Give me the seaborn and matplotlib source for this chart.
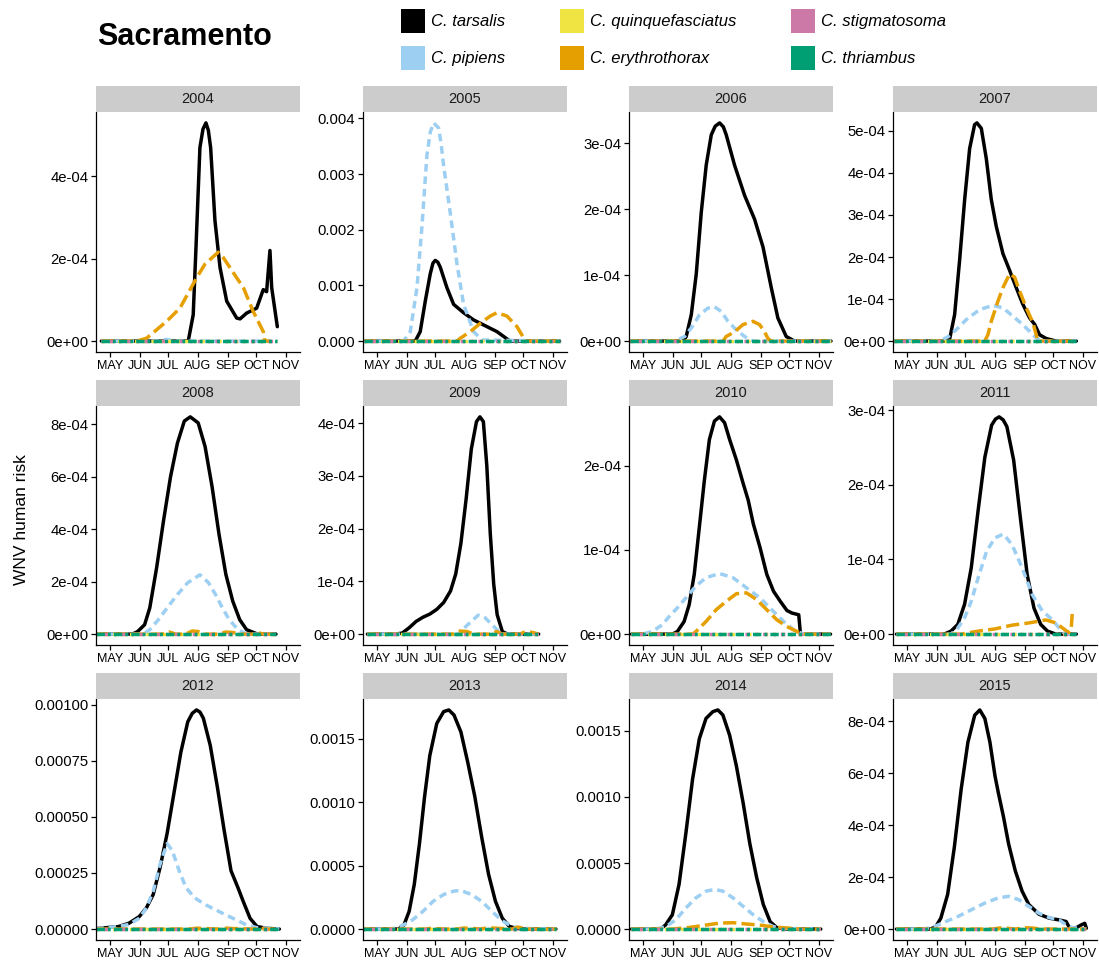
import matplotlib
matplotlib.use("Agg")
import matplotlib.pyplot as plt
from matplotlib.patches import Rectangle
import pandas as pd
import seaborn as sns

# ---------------- data ----------------
SPECIES = ["C. tarsalis", "C. pipiens", "C. quinquefasciatus",
           "C. erythrothorax", "C. stigmatosoma", "C. thriambus"]
COLORS = ["#000000", "#9DCFF2", "#F0E442", "#E69F00", "#CC79A7", "#009E73"]
YEARS = [2004, 2005, 2006, 2007, 2008, 2009, 2010, 2011, 2012, 2013, 2014, 2015]
MONTH_DAYS = [121, 152, 182, 213, 244, 274, 305]
MONTH_LABELS = ["MAY", "JUN", "JUL", "AUG", "SEP", "OCT", "NOV"]
RISK_UNIT = 1e-4  # all series values below are in units of 1e-4

# first / last day of the season for each year (day of year)
SPAN = {2004: (112, 296), 2005: (107, 311.8), 2006: (107, 317.5), 2007: (107, 298),
        2008: (106, 294.5), 2009: (111, 290), 2010: (109, 317), 2011: (110, 298),
        2012: (106.5, 298), 2013: (106, 308), 2014: (109, 306.8), 2015: (110, 308.5)}

TAR_DAY = {
    2004: [112, 202.8, 208, 210.9, 215, 218.2, 221.3, 223.8, 226.2, 230.7, 236, 243, 253.4, 257, 263.8, 274.3, 281.2, 284.7, 288.2, 290, 295.9],
    2005: [107, 161, 166.2, 171.5, 176.7, 179.5, 181.9, 184.5, 187.1, 194.1, 201.1, 211.5, 222, 235.9, 246.4, 256.8, 260, 311.8],
    2006: [107, 162.8, 166.2, 171.5, 176.7, 181.9, 187.1, 192.4, 196.5, 201.1, 205, 208, 216.7, 227.2, 237.6, 246.4, 255.1, 262, 270.7, 279.4, 317.5],
    2007: [107, 162.1, 165.6, 170.8, 176, 181.3, 186.5, 191.7, 194.1, 198.7, 203.9, 209.1, 214.3, 221.3, 228.3, 235.2, 242.2, 249.2, 254.4, 259.6, 266.6, 277, 298],
    2008: [106, 144.5, 149.9, 157.2, 162.6, 169.8, 177, 184.3, 191.5, 198.7, 204.9, 213.2, 220.4, 227.7, 234.9, 242.1, 249.3, 256.6, 263.8, 274.7, 285.5, 294.5],
    2009: [111, 140.1, 147.4, 154.6, 161.8, 169, 176.2, 183.5, 190.7, 197.9, 203.3, 208.7, 214.1, 219.6, 225, 228.6, 232.2, 235.8, 239.4, 243, 246.6, 252, 257.5, 290],
    2010: [109, 151.7, 156.9, 164, 169.3, 174.6, 179.9, 185.2, 190.4, 195.7, 201, 206.3, 211.6, 218.6, 225.7, 231, 236.3, 243.3, 250.4, 257.4, 264.5, 271.5, 276.8, 283.8, 285.6, 317],
    2011: [110, 159.9, 167, 174.1, 181.2, 188.2, 195.3, 202.4, 209.5, 213.5, 217.3, 221.5, 225.4, 232.5, 239.5, 246.6, 253.7, 260.8, 267.9, 276.7, 298],
    2012: [106.5, 130, 140.9, 151.7, 159, 166.2, 173.4, 180.7, 187.9, 195.1, 202.3, 207, 211.4, 215, 218.6, 225.8, 233.1, 240.3, 247.5, 254.8, 260.2, 267.4, 274.7, 285.5, 298],
    2013: [106, 143.7, 149.2, 154.6, 160, 165.4, 170.8, 176.2, 183.5, 190.7, 196.1, 201.5, 208.7, 215.9, 223.2, 230.4, 237.6, 244.8, 252, 259.3, 266.5, 276.3, 308],
    2014: [109, 139.3, 144.6, 151.7, 158.7, 165.8, 172.8, 179.9, 186.9, 194, 199.3, 204.5, 211.6, 218.6, 225.7, 232.7, 239.8, 246.8, 253.9, 260.9, 271.5, 306.8],
    2015: [110, 145.8, 151.1, 156.4, 163.5, 170.5, 177.6, 184.7, 191.8, 197.1, 202.4, 207.7, 213, 216.5, 221.8, 227.2, 234.2, 241.3, 248.4, 259, 269.6, 280.2, 287.3, 290.9, 297.9, 303.2, 306.8, 308.5],
}
TAR_VAL = {
    2004: [0, 0, 0.64, 2.28, 4.7, 5.15, 5.3, 5.12, 4.7, 2.93, 1.79, 0.97, 0.56, 0.54, 0.68, 0.8, 1.25, 1.2, 2.2, 1.3, 0.35],
    2005: [0, 0, 1.7, 7.2, 12.1, 14.0, 14.5, 14.2, 13.3, 9.6, 6.6, 5.1, 3.8, 2.6, 1.7, 0.4, 0, 0],
    2006: [0, 0, 0.07, 0.40, 1.02, 1.95, 2.67, 3.13, 3.26, 3.31, 3.25, 3.13, 2.67, 2.21, 1.85, 1.43, 0.81, 0.35, 0.07, 0, 0],
    2007: [0, 0, 0.05, 0.63, 1.92, 3.37, 4.58, 5.15, 5.19, 5.06, 4.34, 3.37, 2.73, 2.08, 1.68, 1.27, 0.87, 0.55, 0.40, 0.15, 0.06, 0, 0],
    2008: [0, 0, 0.1, 0.36, 1.0, 2.54, 4.33, 6.0, 7.28, 8.12, 8.28, 8.05, 7.15, 5.62, 3.82, 2.28, 1.26, 0.55, 0.17, 0.01, 0, 0],
    2009: [0, 0, 0.02, 0.12, 0.24, 0.32, 0.38, 0.47, 0.60, 0.82, 1.14, 1.72, 2.55, 3.51, 4.03, 4.12, 4.03, 3.19, 1.91, 0.95, 0.37, 0.05, 0, 0],
    2010: [0, 0, 0.03, 0.15, 0.35, 0.71, 1.27, 1.83, 2.31, 2.53, 2.58, 2.51, 2.31, 2.07, 1.79, 1.59, 1.31, 1.03, 0.71, 0.51, 0.39, 0.28, 0.25, 0.23, 0, 0],
    2011: [0, 0, 0.04, 0.13, 0.40, 0.89, 1.65, 2.37, 2.80, 2.88, 2.91, 2.87, 2.78, 2.33, 1.56, 0.80, 0.35, 0.13, 0.04, 0, 0],
    2012: [0.02, 0.11, 0.26, 0.56, 0.94, 1.54, 2.75, 4.26, 6.07, 7.89, 9.24, 9.62, 9.77, 9.68, 9.40, 8.19, 6.37, 4.41, 2.60, 1.84, 1.24, 0.48, 0.11, 0.03, 0],
    2013: [0, 0, 0.32, 1.39, 3.52, 6.72, 10.45, 13.65, 16.19, 17.12, 17.25, 16.85, 15.52, 13.12, 10.45, 7.25, 4.32, 2.19, 0.85, 0.21, 0.05, 0, 0],
    2014: [0, 0, 0.31, 1.08, 3.38, 7.23, 11.33, 14.41, 15.95, 16.46, 16.59, 16.21, 14.67, 12.36, 9.54, 6.46, 3.90, 1.85, 0.56, 0.10, 0, 0],
    2015: [0, 0, 0.09, 0.42, 1.33, 3.15, 5.37, 7.19, 8.23, 8.43, 8.10, 7.19, 5.89, 5.24, 4.33, 3.28, 2.24, 1.46, 0.94, 0.57, 0.42, 0.35, 0.29, 0.05, 0.05, 0.16, 0.22, 0.03],
}

PIP_DAY = {
    2004: [112, 170, 180, 190, 296],
    2005: [107, 148.8, 155.8, 162.8, 168, 173.2, 176.8, 180.2, 185.4, 188, 190.6, 197.6, 204.6, 211.5, 222, 230.7, 311.8],
    2006: [107, 154.1, 164.5, 171.5, 180.2, 188.9, 195.8, 202.8, 209.8, 218.5, 227.2, 235.9, 317.5],
    2007: [107, 155.1, 163.8, 172.5, 183, 196.9, 210.9, 221.3, 231.8, 242.2, 252.7, 257.9, 262, 298],
    2008: [106, 155.3, 162.6, 171.6, 180.7, 191.5, 202.3, 215, 224, 231.3, 238.5, 245.7, 254.8, 263.8, 294.5],
    2009: [111, 206.9, 212.3, 219.6, 226.8, 234, 241.2, 248.4, 253.9, 290],
    2010: [109, 120, 130.5, 141.1, 149.9, 155.2, 165.8, 176.3, 186.9, 201, 215.1, 229.2, 243.3, 257.4, 268, 278.6, 289.1, 317],
    2011: [110, 167, 174.1, 181.2, 188.2, 195.3, 204.2, 213, 221.8, 230.7, 241.3, 251.9, 262.5, 273.2, 280.2, 285.5, 290, 298],
    2012: [106.5, 130, 140.9, 151.7, 159, 166.2, 173.4, 180.7, 186.1, 193.3, 200.5, 209.6, 220.4, 231.3, 242.1, 253, 263.8, 274.7, 292.7, 298],
    2013: [106, 136.5, 147.4, 158.2, 169, 179.8, 190.7, 201.5, 208.7, 219.6, 230.4, 241.2, 252, 262.9, 273.7, 308],
    2014: [109, 134, 144.6, 155.2, 165.8, 176.3, 186.9, 195.7, 204.5, 215.1, 225.7, 236.3, 246.8, 257.4, 268, 306.8],
    2015: [110, 138.7, 149.3, 159.9, 174.1, 188.2, 202.4, 216.5, 227.2, 237.8, 248.4, 259, 269.6, 280.2, 287.3, 294.4, 301.5, 308.5],
}
PIP_VAL = {
    2004: [0, 0, 0.04, 0, 0],
    2005: [0, 0, 1.7, 9.6, 20.6, 33.4, 37.6, 39.2, 38.3, 35.5, 31.6, 23.0, 13.9, 6.6, 1.7, 0.2, 0],
    2006: [0, 0, 0.07, 0.2, 0.4, 0.5, 0.52, 0.45, 0.3, 0.17, 0.07, 0, 0],
    2007: [0, 0, 0.1, 0.27, 0.51, 0.75, 0.85, 0.79, 0.59, 0.39, 0.15, 0.05, 0, 0],
    2008: [0, 0, 0.17, 0.55, 1.0, 1.51, 1.96, 2.26, 1.96, 1.51, 1.0, 0.55, 0.17, 0, 0],
    2009: [0, 0, 0.12, 0.24, 0.36, 0.31, 0.18, 0.05, 0, 0],
    2010: [0, 0, 0.03, 0.11, 0.23, 0.29, 0.43, 0.57, 0.67, 0.72, 0.67, 0.55, 0.43, 0.27, 0.15, 0.05, 0, 0],
    2011: [0, 0, 0.08, 0.22, 0.44, 0.75, 1.11, 1.29, 1.34, 1.20, 0.89, 0.53, 0.31, 0.19, 0.08, 0.01, 0, 0],
    2012: [0.02, 0.11, 0.21, 0.48, 0.94, 1.69, 2.90, 3.81, 3.50, 2.60, 1.84, 1.39, 1.09, 0.86, 0.63, 0.41, 0.18, 0.06, 0.03, 0],
    2013: [0, 0, 0.27, 0.72, 1.39, 2.19, 2.72, 2.99, 3.04, 2.72, 2.19, 1.39, 0.64, 0.19, 0.05, 0],
    2014: [0, 0, 0.18, 0.69, 1.59, 2.36, 2.87, 3.00, 2.87, 2.36, 1.72, 1.08, 0.56, 0.18, 0.05, 0],
    2015: [0, 0, 0.09, 0.26, 0.48, 0.74, 1.00, 1.20, 1.26, 1.13, 0.87, 0.61, 0.44, 0.35, 0.16, 0.05, 0.03, 0],
}

ERY_DAY = {
    2004: [112, 148.9, 159.3, 180.2, 194.1, 211.6, 220.3, 234.2, 239.4, 253.4, 260.4, 270.7, 281.2, 282.9, 288.2],
    2005: [107, 204.6, 208, 218.5, 229, 239.4, 246.4, 256.8, 267.3, 272.5, 276, 311.8],
    2006: [107, 204.6, 208, 216.7, 225.5, 235.9, 242.9, 248.1, 251.6, 255, 317.5],
    2007: [107, 202.2, 205.6, 209.1, 216.1, 221.3, 228.3, 233.5, 238.7, 245.7, 252.7, 256.1, 257.9, 298],
    2008: [106, 175, 183, 190, 200, 207, 213, 220, 235, 242, 250, 258, 270, 276, 282, 294.5],
    2009: [111, 200, 206, 215, 222, 240, 246, 252, 270, 277, 284, 290],
    2010: [109, 172.8, 176.3, 186.9, 197.5, 208.1, 218.6, 229.2, 239.8, 250.4, 260.9, 271.5, 282.1, 287.4, 317],
    2011: [110, 177.6, 195.3, 213, 230.7, 248.4, 266.1, 276.7, 283.8, 290.1, 292.5, 293.7],
    2012: [106.5, 205, 212, 220, 235, 243, 250, 270, 278, 285, 298],
    2013: [106, 172, 176, 182, 195, 205, 212, 218, 230, 236, 242, 262, 268, 274, 280, 308],
    2014: [109, 151.7, 169.3, 186.9, 201, 215.1, 229.2, 243.3, 257.4, 271.5, 285.6, 306.8],
    2015: [110, 210, 218, 226, 234, 245, 252, 260, 308.5],
}
ERY_VAL = {
    2004: [0, 0, 0.07, 0.48, 0.8, 1.54, 1.87, 2.16, 2.03, 1.54, 1.3, 0.72, 0.23, 0, 0],
    2005: [0, 0, 0.5, 1.7, 3.2, 4.5, 5.1, 4.5, 2.6, 1.1, 0, 0],
    2006: [0, 0, 0.07, 0.14, 0.25, 0.30, 0.25, 0.14, 0.04, 0, 0],
    2007: [0, 0, 0.15, 0.47, 0.95, 1.27, 1.60, 1.52, 1.19, 0.79, 0.43, 0.15, 0, 0],
    2008: [0, 0, 0.08, 0, 0, 0.12, 0.1, 0, 0, 0.08, 0.06, 0, 0, 0.05, 0, 0],
    2009: [0, 0, 0.06, 0.05, 0, 0, 0.05, 0, 0, 0.05, 0.03, 0],
    2010: [0, 0, 0.03, 0.15, 0.29, 0.39, 0.48, 0.49, 0.41, 0.29, 0.17, 0.09, 0.03, 0, 0],
    2011: [0, 0, 0.04, 0.07, 0.12, 0.15, 0.19, 0.15, 0.08, 0.02, 0.05, 0.27],
    2012: [0, 0, 0.04, 0.02, 0, 0.04, 0.02, 0, 0.04, 0, 0],
    2013: [0, 0, 0.05, 0.03, 0, 0, 0.08, 0.06, 0, 0.1, 0.08, 0, 0.15, 0.08, 0, 0],
    2014: [0, 0, 0.12, 0.30, 0.45, 0.48, 0.38, 0.30, 0.15, 0.08, 0, 0],
    2015: [0, 0, 0.04, 0.03, 0, 0.05, 0.04, 0, 0],
}

YTICK_LABELS = {
    2004: ["0e+00", "2e-04", "4e-04"],
    2005: ["0.000", "0.001", "0.002", "0.003", "0.004"],
    2006: ["0e+00", "1e-04", "2e-04", "3e-04"],
    2007: ["0e+00", "1e-04", "2e-04", "3e-04", "4e-04", "5e-04"],
    2008: ["0e+00", "2e-04", "4e-04", "6e-04", "8e-04"],
    2009: ["0e+00", "1e-04", "2e-04", "3e-04", "4e-04"],
    2010: ["0e+00", "1e-04", "2e-04"],
    2011: ["0e+00", "1e-04", "2e-04", "3e-04"],
    2012: ["0.00000", "0.00025", "0.00050", "0.00075", "0.00100"],
    2013: ["0.0000", "0.0005", "0.0010", "0.0015"],
    2014: ["0.0000", "0.0005", "0.0010", "0.0015"],
    2015: ["0e+00", "2e-04", "4e-04", "6e-04", "8e-04"],
}

# ---------------- styling ----------------
sns.set_theme(style="white")
plt.rcParams["font.family"] = ["Liberation Sans", "DejaVu Sans"]

PALETTE = dict(zip(SPECIES, COLORS))
DASHES = {
    "C. tarsalis": "",
    "C. pipiens": (2.2, 1.4),
    "C. quinquefasciatus": (1.0, 1.4),
    "C. erythrothorax": (3.8, 1.5),
    "C. stigmatosoma": (0.6, 1.6, 1.3, 1.6),
    "C. thriambus": (2.4, 0.9, 0.8, 0.9),
}

W, H = 1099, 965
fig = plt.figure(figsize=(W / 100, H / 100), dpi=100)
fig.patch.set_facecolor("white")

COL_X = [96, 363, 629, 893]
PANEL_W = 204
ROW_TOP = [112, 406, 699]
PANEL_H = [240, 239, 241]
STRIP_H = 26


def year_frame(year):
    start, end = SPAN[year]
    parts = []
    for sp in SPECIES:
        if sp == "C. tarsalis":
            d, v = TAR_DAY[year], TAR_VAL[year]
        elif sp == "C. pipiens":
            d, v = PIP_DAY[year], PIP_VAL[year]
        elif sp == "C. erythrothorax":
            d, v = ERY_DAY[year], ERY_VAL[year]
        else:
            d, v = [start, end], [0.0, 0.0]
        parts.append(pd.DataFrame({"day": d, "risk": [x * RISK_UNIT for x in v], "species": sp}))
    return pd.concat(parts, ignore_index=True)


for i, year in enumerate(YEARS):
    r, c = divmod(i, 4)
    left = COL_X[c] / W
    bottom = 1 - (ROW_TOP[r] + PANEL_H[r]) / H
    ax = fig.add_axes([left, bottom, PANEL_W / W, PANEL_H[r] / H])
    df = year_frame(year)
    sns.lineplot(data=df, x="day", y="risk", hue="species", style="species",
                 hue_order=SPECIES, style_order=SPECIES, palette=PALETTE,
                 dashes=DASHES, linewidth=2.5, estimator=None, sort=False,
                 legend=False, ax=ax)
    for ln in ax.get_lines():
        ln.set_solid_joinstyle("round")
        ln.set_dash_joinstyle("round")
    ymax = df["risk"].max()
    ax.set_ylim(-0.05 * ymax, 1.05 * ymax)
    ax.set_xlim(106.4, 319.6)
    ax.set_xticks(MONTH_DAYS)
    ax.set_xticklabels(MONTH_LABELS)
    labs = YTICK_LABELS[year]
    ax.set_yticks([float(s) for s in labs])
    ax.set_yticklabels(labs)
    ax.set_xlabel("")
    ax.set_ylabel("")
    for side in ["top", "right"]:
        ax.spines[side].set_visible(False)
    for side in ["left", "bottom"]:
        ax.spines[side].set_color("black")
        ax.spines[side].set_linewidth(0.9)
    ax.tick_params(axis="both", direction="out", length=3.5, width=0.9,
                   color="black", labelcolor="black", pad=2,
                   left=True, bottom=True)
    ax.tick_params(axis="x", labelsize=9)
    ax.tick_params(axis="y", labelsize=10.7)
    ax.set_facecolor("white")

    # facet strip
    sax = fig.add_axes([left, 1 - ROW_TOP[r] / H, PANEL_W / W, STRIP_H / H])
    sax.set_facecolor("#CCCCCC")
    sax.set_xticks([])
    sax.set_yticks([])
    for s in sax.spines.values():
        s.set_visible(False)
    sax.text(0.5, 0.5, str(year), ha="center", va="center", fontsize=10.5,
             color="#1A1A1A", transform=sax.transAxes)

# title
fig.text(97 / W, 1 - 37 / H, "Sacramento", ha="left", va="center",
         fontsize=22, fontweight="bold", color="black")
# y label
fig.text(22 / W, 1 - 520 / H, "WNV human risk", rotation=90, ha="center",
         va="center", fontsize=12.5, color="black")

# legend (3 columns x 2 rows, filled by column)
KEY_X = [401, 560, 791]
KEY_TOP = [9, 46]
KEY_S = 24
for k, (sp, col) in enumerate(zip(SPECIES, COLORS)):
    cc, rr = divmod(k, 2)
    x0 = KEY_X[cc]
    y0 = KEY_TOP[rr]
    fig.add_artist(Rectangle((x0 / W, 1 - (y0 + KEY_S) / H), KEY_S / W, KEY_S / H,
                             transform=fig.transFigure, facecolor=col,
                             edgecolor="none"))
    fig.text((x0 + 30) / W, 1 - (y0 + KEY_S / 2 + 0.5) / H, sp, ha="left",
             va="center", fontsize=12, fontstyle="italic", color="black")

fig.savefig("out.png", dpi=100, facecolor="white")
